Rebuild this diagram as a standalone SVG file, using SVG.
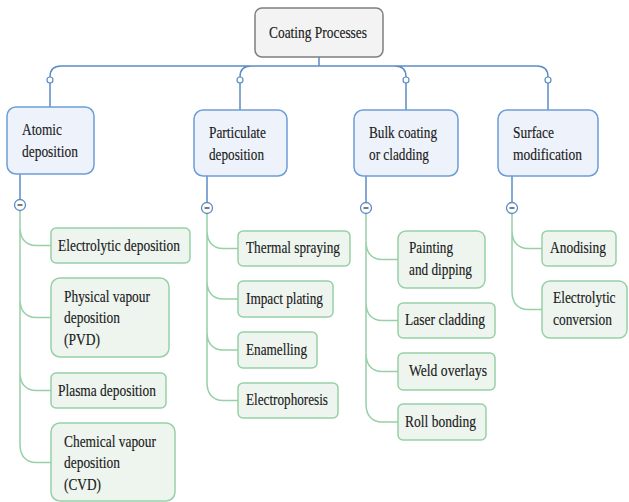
<svg xmlns="http://www.w3.org/2000/svg" width="629" height="502" viewBox="0 0 629 502" font-family="Liberation Serif, Times New Roman, serif">
<style>
text{font-family:"Liberation Serif","Times New Roman",serif;font-size:17px;fill:#1a1a1a;stroke:#1a1a1a;stroke-width:0.15}
.root{fill:#f3f3f3;stroke:#7f7f7f;stroke-width:1.5}
.l1{fill:#eef3fb;stroke:#6d9dd6;stroke-width:1.5}
.ch{fill:#eef5ef;stroke:#97d0a6;stroke-width:1.5}
.blue{fill:none;stroke:#5b8cc6;stroke-width:1.5}
.green{fill:none;stroke:#97d0a6;stroke-width:1.5}
.dot{fill:#fff;stroke:#5b8cc6;stroke-width:1.2}
.tog{fill:#fff;stroke:#5b8cc6;stroke-width:1.3}
.minus{stroke:#333;stroke-width:1.3}
</style>
<g id="connectors">
  <path class="blue" d="M319,57 V66 M50,77 Q50,66 61,66 H537 Q548,66 548,77 M240,77 Q240,66 251,66 M406,77 Q406,66 395,66"/>
  <path class="blue" d="M50,83 V107 M240,83 V110 M406,83 V110 M548,83 V110"/>
  <circle class="dot" cx="50" cy="80" r="3"/>
  <circle class="dot" cx="240" cy="80" r="3"/>
  <circle class="dot" cx="406" cy="80" r="3"/>
  <circle class="dot" cx="548" cy="80" r="3"/>
  <path class="blue" d="M20,174 V199.5 M207,176 V202.5 M366,176 V202.5 M512,176 V202.5"/>
  <path class="green" d="M20,210.5 V444.5 C20,456 26,462.5 36,462.5 H51 M20,227.5 C20,239 26,245.5 36,245.5 H51 M20,299.5 C20,311 26,317.5 36,317.5 H51 M20,372.5 C20,384 26,390.5 36,390.5 H51"/>
  <path class="green" d="M207,213.5 V382.5 C207,394 213,400.5 223,400.5 H238 M207,230.5 C207,242 213,248.5 223,248.5 H238 M207,281 C207,292.5 213,299 223,299 H238 M207,332 C207,343.5 213,350 223,350 H238"/>
  <path class="green" d="M366,213.5 V404 C366,415.5 372,422 382,422 H398 M366,241.5 C366,253 372,259.5 382,259.5 H398 M366,302.5 C366,314 372,320.5 382,320.5 H398 M366,353.5 C366,365 372,371.5 382,371.5 H398"/>
  <path class="green" d="M512,213.5 V291.5 C512,303 518,309.5 528,309.5 H542 M512,230.5 C512,242 518,248.5 528,248.5 H542"/>
  <circle class="tog" cx="20" cy="205" r="5.5"/><path class="minus" d="M17.5,205 H22.5"/>
  <circle class="tog" cx="207" cy="208" r="5.5"/><path class="minus" d="M204.5,208 H209.5"/>
  <circle class="tog" cx="366" cy="208" r="5.5"/><path class="minus" d="M363.5,208 H368.5"/>
  <circle class="tog" cx="512" cy="208" r="5.5"/><path class="minus" d="M509.5,208 H514.5"/>
</g>
<g id="root">
  <rect class="root" x="255" y="8" width="128" height="49" rx="7"/>
  <text x="269" y="38" textLength="98" lengthAdjust="spacingAndGlyphs">Coating Processes</text>
</g>
<g id="atomic">
  <rect class="l1" x="7" y="107" width="87" height="67" rx="9"/>
  <text x="22" y="135" textLength="40" lengthAdjust="spacingAndGlyphs">Atomic</text>
  <text x="22" y="157" textLength="56" lengthAdjust="spacingAndGlyphs">deposition</text>
</g>
<g id="particulate">
  <rect class="l1" x="194" y="110" width="93" height="66" rx="9"/>
  <text x="209" y="138" textLength="57" lengthAdjust="spacingAndGlyphs">Particulate</text>
  <text x="209" y="160" textLength="55" lengthAdjust="spacingAndGlyphs">deposition</text>
</g>
<g id="bulk">
  <rect class="l1" x="354" y="110" width="104" height="66" rx="9"/>
  <text x="369" y="138" textLength="68" lengthAdjust="spacingAndGlyphs">Bulk coating</text>
  <text x="369" y="160" textLength="60" lengthAdjust="spacingAndGlyphs">or cladding</text>
</g>
<g id="surface">
  <rect class="l1" x="498" y="110" width="100" height="66" rx="9"/>
  <text x="513" y="138" textLength="41" lengthAdjust="spacingAndGlyphs">Surface</text>
  <text x="513" y="160" textLength="69" lengthAdjust="spacingAndGlyphs">modification</text>
</g>
<g id="electrolytic-deposition">
  <rect class="ch" x="51" y="228" width="139" height="35" rx="5"/>
  <text x="58" y="251" textLength="122" lengthAdjust="spacingAndGlyphs">Electrolytic deposition</text>
</g>
<g id="pvd">
  <rect class="ch" x="51" y="278" width="118" height="79" rx="9"/>
  <text x="64" y="302" textLength="86" lengthAdjust="spacingAndGlyphs">Physical vapour</text>
  <text x="64" y="323" textLength="56" lengthAdjust="spacingAndGlyphs">deposition</text>
  <text x="64" y="345" textLength="36" lengthAdjust="spacingAndGlyphs">(PVD)</text>
</g>
<g id="plasma-deposition">
  <rect class="ch" x="51" y="373" width="115" height="35" rx="5"/>
  <text x="58" y="396" textLength="98" lengthAdjust="spacingAndGlyphs">Plasma deposition</text>
</g>
<g id="cvd">
  <rect class="ch" x="51" y="423" width="124" height="78" rx="9"/>
  <text x="64" y="447" textLength="92" lengthAdjust="spacingAndGlyphs">Chemical vapour</text>
  <text x="64" y="468" textLength="56" lengthAdjust="spacingAndGlyphs">deposition</text>
  <text x="64" y="490" textLength="37" lengthAdjust="spacingAndGlyphs">(CVD)</text>
</g>
<g id="thermal-spraying">
  <rect class="ch" x="238" y="231" width="112" height="35" rx="5"/>
  <text x="246" y="253" textLength="94" lengthAdjust="spacingAndGlyphs">Thermal spraying</text>
</g>
<g id="impact-plating">
  <rect class="ch" x="238" y="281" width="95" height="36" rx="5"/>
  <text x="246" y="304" textLength="77" lengthAdjust="spacingAndGlyphs">Impact plating</text>
</g>
<g id="enamelling">
  <rect class="ch" x="238" y="332" width="79" height="36" rx="5"/>
  <text x="246" y="355" textLength="61" lengthAdjust="spacingAndGlyphs">Enamelling</text>
</g>
<g id="electrophoresis">
  <rect class="ch" x="238" y="383" width="100" height="35" rx="5"/>
  <text x="246" y="405" textLength="82" lengthAdjust="spacingAndGlyphs">Electrophoresis</text>
</g>
<g id="painting-dipping">
  <rect class="ch" x="398" y="231" width="87" height="57" rx="8"/>
  <text x="409" y="253" textLength="44" lengthAdjust="spacingAndGlyphs">Painting</text>
  <text x="409" y="275" textLength="63" lengthAdjust="spacingAndGlyphs">and dipping</text>
</g>
<g id="laser-cladding">
  <rect class="ch" x="398" y="303" width="97" height="35" rx="5"/>
  <text x="405" y="325" textLength="80" lengthAdjust="spacingAndGlyphs">Laser cladding</text>
</g>
<g id="weld-overlays">
  <rect class="ch" x="398" y="353" width="97" height="37" rx="5"/>
  <text x="409" y="376" textLength="78" lengthAdjust="spacingAndGlyphs">Weld overlays</text>
</g>
<g id="roll-bonding">
  <rect class="ch" x="398" y="404" width="88" height="36" rx="5"/>
  <text x="405" y="427" textLength="71" lengthAdjust="spacingAndGlyphs">Roll bonding</text>
</g>
<g id="anodising">
  <rect class="ch" x="542" y="231" width="74" height="35" rx="5"/>
  <text x="550" y="253" textLength="56" lengthAdjust="spacingAndGlyphs">Anodising</text>
</g>
<g id="electrolytic-conversion">
  <rect class="ch" x="542" y="281" width="85" height="57" rx="8"/>
  <text transform="translate(553,303) scale(0.79,1)">Electrolytic</text>
  <text transform="translate(553,325) scale(0.79,1)">conversion</text>
</g>
</svg>
